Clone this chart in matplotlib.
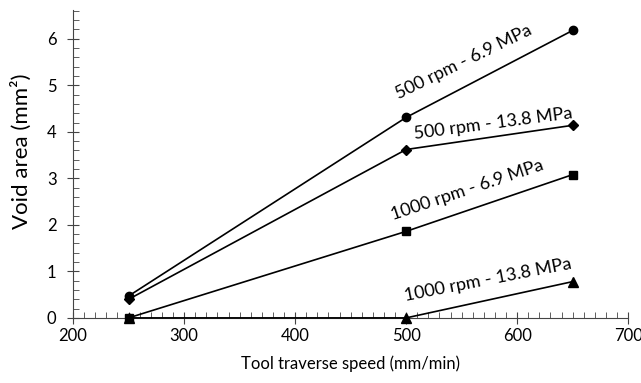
import matplotlib.pyplot as plt
from matplotlib.ticker import MultipleLocator

plt.rcParams['font.family'] = ['Lato', 'DejaVu Sans']

speed = [250, 500, 650]
r500_69 = [0.47, 4.31, 6.18]
r500_138 = [0.40, 3.62, 4.14]
r1000_69 = [0.0, 1.86, 3.08]
r1000_138 = [0.0, 0.0, 0.78]

fig = plt.figure(figsize=(6.41, 3.83), dpi=100)
ax = fig.add_axes([0.114, 0.170, 0.866, 0.804])

ax.plot(speed, r500_69, color="black", lw=1.2, marker="o", ms=6, clip_on=False, zorder=3)
ax.plot(speed, r500_138, color="black", lw=1.2, marker="D", ms=5, clip_on=False, zorder=3)
ax.plot(speed, r1000_69, color="black", lw=1.2, marker="s", ms=6, clip_on=False, zorder=3)
ax.plot(speed, r1000_138, color="black", lw=1.2, marker="^", ms=6.5, clip_on=False, zorder=3)

ax.text(552, 5.5, "500 rpm - 6.9 MPa", fontsize=13, rotation=26, ha="center", va="center")
ax.text(578, 4.17, "500 rpm - 13.8 MPa", fontsize=13, rotation=7.5, ha="center", va="center")
ax.text(555, 2.75, "1000 rpm - 6.9 MPa", fontsize=13, rotation=18.5, ha="center", va="center")
ax.text(574, 0.82, "1000 rpm - 13.8 MPa", fontsize=13, rotation=11, ha="center", va="center")

ax.set_xlim(200, 700)
ax.set_ylim(0, 6.62)
ax.xaxis.set_major_locator(MultipleLocator(100))
ax.xaxis.set_minor_locator(MultipleLocator(10))
ax.yaxis.set_major_locator(MultipleLocator(1))
ax.yaxis.set_minor_locator(MultipleLocator(0.2))
ax.spines["top"].set_visible(False)
ax.spines["right"].set_visible(False)
for s in ["left", "bottom"]:
    ax.spines[s].set_color("#444444")
ax.tick_params(which="major", direction="inout", length=8, labelsize=12, color="#444444")
ax.tick_params(which="minor", direction="in", length=4, color="#444444")
ax.tick_params(axis="y", pad=8)
ax.set_xlabel("Tool traverse speed (mm/min)", fontsize=12, labelpad=8)
ax.set_ylabel("Void area (mm²)", fontsize=16)
ax.yaxis.set_label_coords(-0.074, 0.54)

fig.savefig("out.png", dpi=100)
